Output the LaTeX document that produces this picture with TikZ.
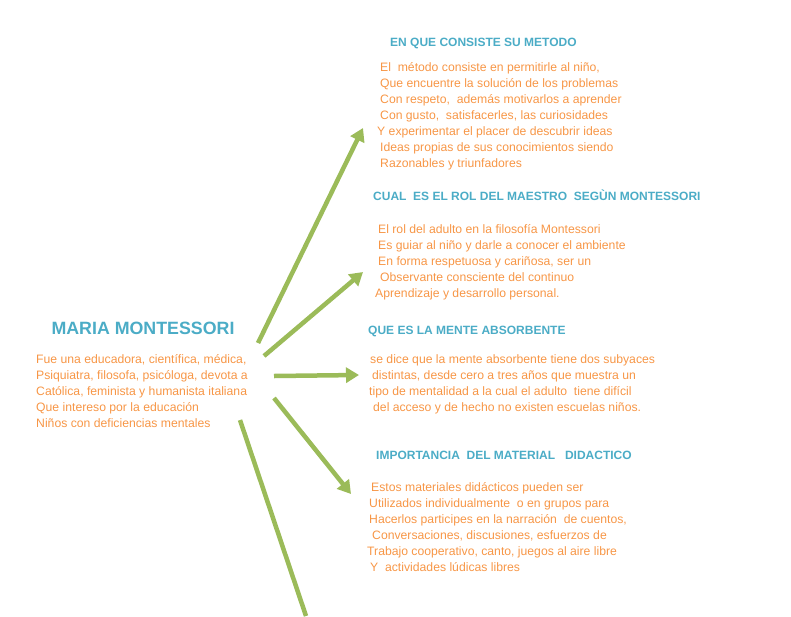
\documentclass[tikz,border=0pt]{standalone}
\usepackage{fontspec}
\setmainfont{Liberation Sans}
\usetikzlibrary{arrows.meta}
\definecolor{hblue}{HTML}{4BACC6}
\definecolor{torange}{HTML}{F79646}
\definecolor{agreen}{HTML}{9BBB59}
\begin{document}
\begin{tikzpicture}[x=1pt,y=-1pt,
  body/.style={anchor=base west,inner sep=0,text=torange,font=\fontsize{12.2}{14}\selectfont},
  head/.style={anchor=base west,inner sep=0,text=hblue,font=\bfseries\fontsize{12}{14}\selectfont},
  arr/.style={agreen,line width=4.5pt,-{Triangle[length=13pt,width=15pt]}}]
\useasboundingbox (0,0) rectangle (791,616);
\node[anchor=base,inner sep=0,text=hblue,font=\bfseries\fontsize{17.8}{20}\selectfont] (title) at (143,334) {MARIA MONTESSORI};
\foreach \t [count=\i] in {{Fue una educadora, científica, médica,},{Psiquiatra, filosofa, psicóloga, devota a},{Católica, feminista y humanista italiana},{Que intereso por la educación},{Niños con deficiencias mentales}}
  \node[body] (l\i) at (36,363+16*\i-16) {\t};
\node[head] (h1) at (390,46) {EN QUE CONSISTE SU METODO};
\foreach \t/\x [count=\i] in {{El \ método consiste en permitirle al niño,}/380,{Que encuentre la solución de los problemas}/380,{Con respeto, \ además motivarlos a aprender}/380,{Con gusto, \ satisfacerles, las curiosidades}/380,{Y experimentar el placer de descubrir ideas}/377,{Ideas propias de sus conocimientos siendo}/380,{Razonables y triunfadores}/380}
  \node[body] (a\i) at (\x,71+16*\i-16) {\t};
\node[head] (h2) at (373,200) {CUAL \ ES EL ROL DEL MAESTRO \ SEGÙN MONTESSORI};
\foreach \t/\x [count=\i] in {{El rol del adulto en la filosofía Montessori}/378,{Es guiar al niño y darle a conocer el ambiente}/378,{En forma respetuosa y cariñosa, ser un}/378,{Observante consciente del continuo}/380,{Aprendizaje y desarrollo personal.}/375}
  \node[body] (b\i) at (\x,233+16*\i-16) {\t};
\node[head] (h3) at (368,334) {QUE ES LA MENTE ABSORBENTE};
\foreach \t/\x [count=\i] in {{se dice que la mente absorbente tiene dos subyaces}/370,{distintas, desde cero a tres años que muestra un}/372,{tipo de mentalidad a la cual el adulto \ tiene difícil}/369,{del acceso y de hecho no existen escuelas niños.}/373}
  \node[body] (c\i) at (\x,363+16*\i-16) {\t};
\node[head] (h4) at (376,459) {IMPORTANCIA \ DEL MATERIAL \ \ DIDACTICO};
\foreach \t/\x [count=\i] in {{Estos materiales didácticos pueden ser}/371,{Utilizados individualmente \ o en grupos para}/369,{Hacerlos participes en la narración \ de cuentos,}/369,{Conversaciones, discusiones, esfuerzos de}/372,{Trabajo cooperativo, canto, juegos al aire libre}/367,{Y \ actividades lúdicas libres}/370}
  \node[body] (d\i) at (\x,491+16*\i-16) {\t};
\coordinate (s1) at (258,343); \coordinate (e1) at (363,128);
\coordinate (s2) at (264,356); \coordinate (e2) at (363,272);
\coordinate (s3) at (274,376); \coordinate (e3) at (359,375);
\coordinate (s4) at (274,398); \coordinate (e4) at (351,494);
\coordinate (s5) at (240,420); \coordinate (e5) at (306,616);
\draw[arr] (s1) -- (e1);
\draw[arr] (s2) -- (e2);
\draw[arr] (s3) -- (e3);
\draw[arr] (s4) -- (e4);
\draw[agreen,line width=4.5pt] (s5) -- (e5);
\end{tikzpicture}
\end{document}
